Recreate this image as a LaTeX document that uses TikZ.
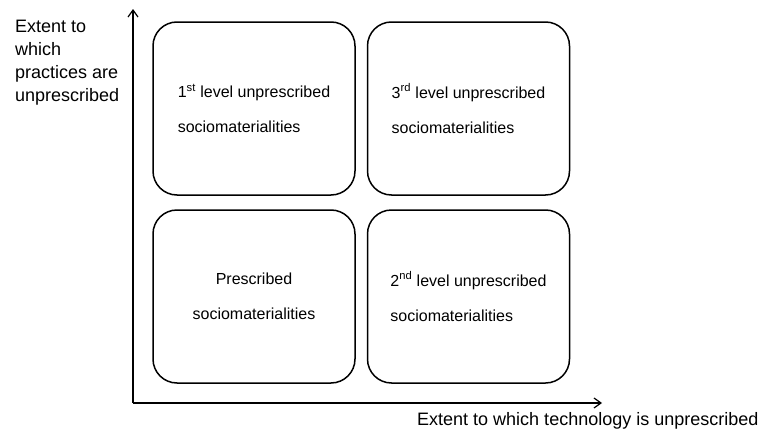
\documentclass[tikz,border=0pt]{standalone}
\usepackage{fontspec}
\setmainfont{Liberation Sans}
\usetikzlibrary{arrows.meta}
\tikzset{
  quadNode/.style={%
    rectangle, rounded corners=24pt, draw, line width=1.5pt,
    minimum width=202pt, minimum height=173pt,
    font=\fontsize{16}{35}\selectfont,
  },
  axisLine/.style={%
    line width=1.2pt, -{Straight Barb[length=7pt,width=10pt]},
  },
  axisLabel/.style={%
    inner sep=0pt, align=left,
    font=\fontsize{18}{23}\selectfont,
  }
}

\begin{document}
\begin{tikzpicture}[x=1pt,y=-1pt]
          \useasboundingbox (0,0) rectangle (769,431);

          \node[quadNode,align=left] (Q1) at (254,108.5)
            {1\textsuperscript{st} level unprescribed\\sociomaterialities};
          \node[quadNode,align=left] (Q3) at (468.5,108.5)
            {3\textsuperscript{rd} level unprescribed\\sociomaterialities};
          \node[quadNode,align=center] (P) at (254,296.5)
            {Prescribed\\sociomaterialities};
          \node[quadNode,align=left] (Q2) at (468.5,296.5)
            {2\textsuperscript{nd} level unprescribed\\sociomaterialities};

          \coordinate (O) at (133,403);
          \coordinate (yEnd) at (133,9);
          \coordinate (xEnd) at (602,403);

          \draw[axisLine] (O) -- (yEnd);
          \draw[axisLine] (O) -- (xEnd);

          \node[axisLabel,anchor=north west] (yLabel) at (15,20)
            {Extent to\\which\\practices are\\unprescribed};
          \node[axisLabel,anchor=base west] (xLabel) at (417,425)
            {Extent to which technology is unprescribed};
        \end{tikzpicture}
\end{document}
